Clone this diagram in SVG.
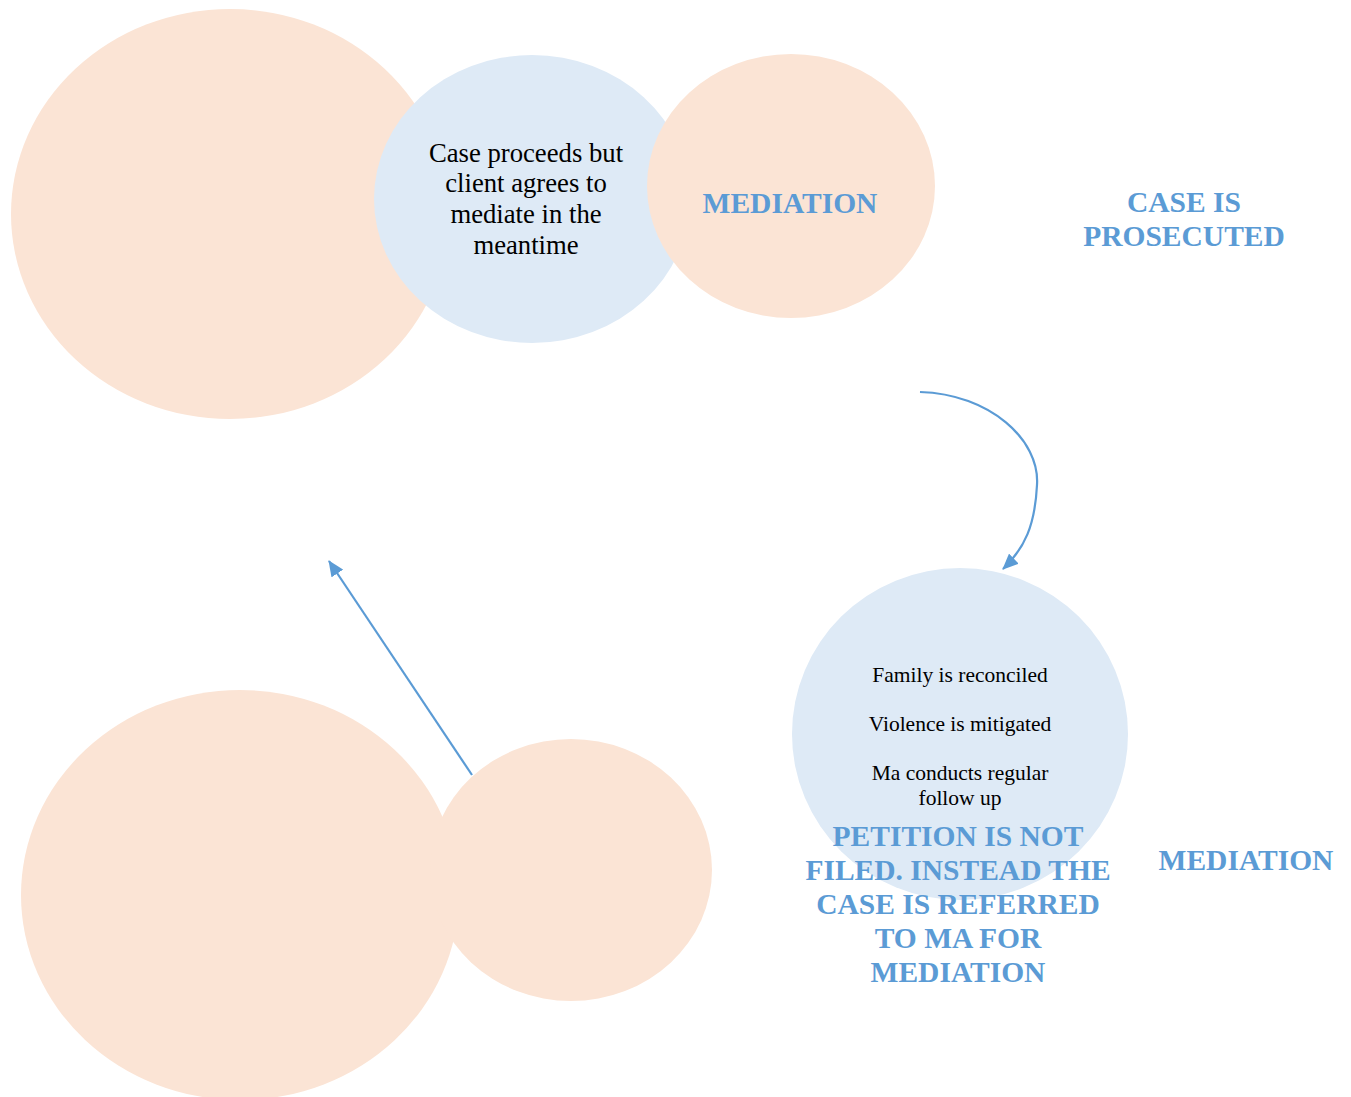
<svg xmlns="http://www.w3.org/2000/svg" width="1351" height="1097" viewBox="0 0 1351 1097">
<style>
.peach{fill:#FBE4D5}
.blue{fill:#DEEAF6}
.t{font-family:"Liberation Serif","Times New Roman",serif;fill:#000;text-anchor:middle}
.h{font-family:"Liberation Serif","Times New Roman",serif;font-weight:bold;fill:#5B9BD5;text-anchor:middle;font-size:29.5px}
.c{fill:none;stroke:#5B9BD5;stroke-width:2.2}
</style>
<defs>
<marker id="arrow" viewBox="0 0 16 14" refX="15" refY="7" markerWidth="16" markerHeight="14" markerUnits="userSpaceOnUse" orient="auto">
<path d="M0,0 L16,7 L0,14 z" fill="#5B9BD5"/>
</marker>
</defs>
<g id="node-top-big"><ellipse class="peach" cx="230" cy="214" rx="219" ry="205"/></g>
<g id="node-case-proceeds">
<ellipse class="blue" cx="532" cy="199" rx="158" ry="144"/>
<text class="t" font-size="26.7"><tspan x="526" y="162">Case proceeds but</tspan><tspan x="526" y="192">client agrees to</tspan><tspan x="526" y="223">mediate in the</tspan><tspan x="526" y="254">meantime</tspan></text>
</g>
<g id="node-mediation-top">
<ellipse class="peach" cx="791" cy="186" rx="144" ry="132"/>
<text class="h" x="790" y="213">MEDIATION</text>
</g>
<g id="node-case-prosecuted">
<text class="h"><tspan x="1184" y="212">CASE IS</tspan><tspan x="1184" y="246">PROSECUTED</tspan></text>
</g>
<g id="node-outcome">
<ellipse class="blue" cx="960" cy="734" rx="168" ry="166"/>
<text class="t" font-size="21.5"><tspan x="960" y="682">Family is reconciled</tspan><tspan x="960" y="731">Violence is mitigated</tspan><tspan x="960" y="780">Ma conducts regular</tspan><tspan x="960" y="805">follow up</tspan></text>
</g>
<g id="node-petition">
<text class="h"><tspan x="958" y="846">PETITION IS NOT</tspan><tspan x="958" y="880">FILED. INSTEAD THE</tspan><tspan x="958" y="914">CASE IS REFERRED</tspan><tspan x="958" y="948">TO MA FOR</tspan><tspan x="958" y="982">MEDIATION</tspan></text>
</g>
<g id="node-mediation-right"><text class="h" x="1246" y="870">MEDIATION</text></g>
<g id="node-bottom-big"><ellipse class="peach" cx="240" cy="895" rx="219" ry="205"/></g>
<g id="node-bottom-small"><ellipse class="peach" cx="571" cy="870" rx="141" ry="131"/></g>
<g id="connectors">
<path class="c" d="M920,392 C990,394 1040,440 1037,485 C1035,525 1025,548 1003,569" marker-end="url(#arrow)"/>
<path class="c" d="M472,775 L329,561" marker-end="url(#arrow)"/>
</g>
</svg>
